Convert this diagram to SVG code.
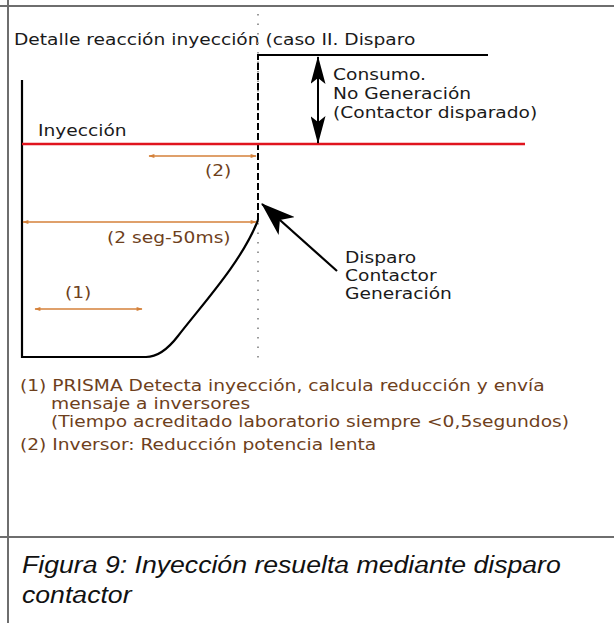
<svg xmlns="http://www.w3.org/2000/svg" width="614" height="623" viewBox="0 0 614 623">
<style>
.t{font-family:"DejaVu Sans",Verdana,sans-serif;font-size:16.5px;fill:#1a1a1a}
.b{font-family:"DejaVu Sans",Verdana,sans-serif;font-size:16.5px;fill:#6e3f1c}
.cap{font-family:"Liberation Sans",Arial,sans-serif;font-style:italic;font-size:24px;fill:#111}
.frame{stroke:#6e6e6e;stroke-width:2;fill:none}
.or{stroke:#d4813a;stroke-width:1.6;fill:none;marker-start:url(#oa);marker-end:url(#oa)}
</style>
<defs>
<marker id="oa" viewBox="0 0 10 10" refX="9" refY="5" markerWidth="7" markerHeight="6" orient="auto-start-reverse" markerUnits="userSpaceOnUse">
<path d="M0,1.5 L10,5 L0,8.5 Z" fill="#d4813a"/>
</marker>
<marker id="ba" viewBox="0 0 28 15" refX="27" refY="7.5" markerWidth="28" markerHeight="15" orient="auto-start-reverse" markerUnits="userSpaceOnUse">
<path d="M0,0 L28,7.5 L0,15 L6,7.5 Z" fill="#000"/>
</marker>
<marker id="bb" viewBox="0 0 34 24" refX="33" refY="12" markerWidth="34" markerHeight="24" orient="auto" markerUnits="userSpaceOnUse">
<path d="M0,0 L34,12 L0,24 L9,12 Z" fill="#000"/>
</marker>
</defs>
<rect width="614" height="623" fill="#fff"/>
<g id="frame">
<line class="frame" x1="0" y1="6" x2="614" y2="6"/>
<line class="frame" x1="8" y1="0" x2="8" y2="623"/>
<line class="frame" x1="0" y1="537" x2="614" y2="537"/>
</g>
<g id="title"><text class="t" transform="translate(14,45) scale(1.13,1)">Detalle reacción inyección (caso II. Disparo</text></g>
<g id="curves">
<line x1="258" y1="14" x2="258" y2="362" stroke="#9a9a9a" stroke-width="2" stroke-dasharray="1.5 8"/>
<path d="M22,80 L22,357 L146,357 C158,357 168,349 178,336 C200,307 242,262 258,220" stroke="#000" stroke-width="2.2" fill="none"/>
<line x1="258" y1="220" x2="258" y2="55" stroke="#000" stroke-width="2" stroke-dasharray="7 3"/>
<line x1="257" y1="55" x2="488" y2="55" stroke="#000" stroke-width="2.2"/>
<line x1="22" y1="144" x2="525" y2="144" stroke="#e0141e" stroke-width="2.6"/>
</g>
<g id="labels">
<text class="t" transform="translate(38,136) scale(1.13,1)">Inyección</text>
<text class="t" transform="translate(333,80) scale(1.13,1)">Consumo.</text>
<text class="t" transform="translate(333,99) scale(1.13,1)">No Generación</text>
<text class="t" transform="translate(333,118) scale(1.13,1)">(Contactor disparado)</text>
<text class="t" transform="translate(345,263) scale(1.13,1)">Disparo</text>
<text class="t" transform="translate(345,281) scale(1.13,1)">Contactor</text>
<text class="t" transform="translate(345,299) scale(1.13,1)">Generación</text>
<text class="b" transform="translate(205,176) scale(1.13,1)">(2)</text>
<text class="b" transform="translate(107,243) scale(1.13,1)">(2 seg-50ms)</text>
<text class="b" transform="translate(65,298) scale(1.13,1)">(1)</text>
</g>
<g id="connectors">
<line x1="318" y1="57" x2="318" y2="143" stroke="#000" stroke-width="2" marker-start="url(#ba)" marker-end="url(#ba)"/>
<line x1="337" y1="271" x2="262" y2="204" stroke="#000" stroke-width="2.2" marker-end="url(#bb)"/>
<line class="or" x1="149" y1="156" x2="256" y2="156"/>
<line class="or" x1="23" y1="222" x2="256" y2="222"/>
<line class="or" x1="35" y1="309" x2="142" y2="309"/>
</g>
<g id="notes">
<text class="b" transform="translate(20,391) scale(1.13,1)">(1) PRISMA Detecta inyección, calcula reducción y envía</text>
<text class="b" transform="translate(51,409) scale(1.13,1)">mensaje a inversores</text>
<text class="b" transform="translate(51,427) scale(1.13,1)">(Tiempo acreditado laboratorio siempre &lt;0,5segundos)</text>
<text class="b" transform="translate(20,450) scale(1.13,1)">(2) Inversor: Reducción potencia lenta</text>
</g>
<g id="caption">
<text class="cap" transform="translate(22,573) scale(1.11,1)">Figura 9: Inyección resuelta mediante disparo</text>
<text class="cap" transform="translate(22,603) scale(1.11,1)">contactor</text>
</g>
</svg>
